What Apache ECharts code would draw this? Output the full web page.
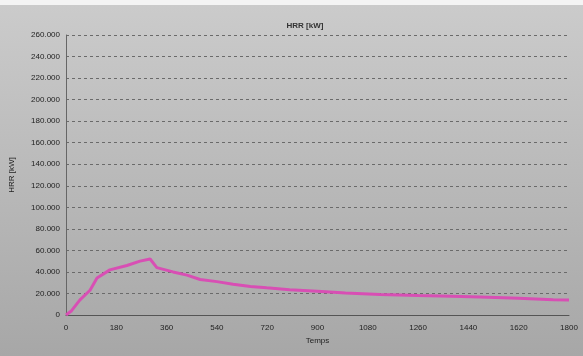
<!DOCTYPE html>
<html><head><meta charset="utf-8">
<script src="https://cdn.jsdelivr.net/npm/echarts@6/dist/echarts.min.js"></script>
<style>html,body{margin:0;padding:0;background:#f4f4f4}#c{width:583px;height:356px}</style>
</head><body><div id="c"></div>
<script>
var times = [0, 20, 50, 86, 111, 157, 218, 265, 301, 325, 383, 433, 480, 540, 598, 660, 718, 800, 900, 1000, 1124, 1260, 1380, 1482, 1620, 1743, 1800];
var hrr = [0, 4000, 14000, 23000, 34400, 41900, 46000, 50000, 52000, 44000, 40000, 37000, 33000, 31000, 28500, 26500, 25200, 23500, 22000, 20500, 19000, 18000, 17300, 16700, 15500, 14200, 14000];
var yTicks = ['0','20.000','40.000','60.000','80.000','100.000','120.000','140.000','160.000','180.000','200.000','220.000','240.000','260.000'];
var xTicks = ['0','180','360','540','720','900','1080','1260','1440','1620','1800'];
var chart = echarts.init(document.getElementById('c'));
var pts = times.map(function(t,i){return [t,hrr[i]];});
var font = 'Liberation Sans, Arial, sans-serif';
chart.setOption({
  backgroundColor: {type:'linear',x:0,y:0,x2:0,y2:1,colorStops:[
    {offset:0,color:'#f4f4f4'},{offset:0.014,color:'#f4f4f4'},{offset:0.015,color:'#cbcbcb'},{offset:1,color:'#a7a7a7'}]},
  animation:false,
  title:{text:'HRR [kW]',left:300,top:17,textAlign:'center',textStyle:{fontSize:8,fontWeight:'bold',color:'#333',fontFamily:font}},
  grid:{left:66,right:14,top:35,bottom:41},
  xAxis:{type:'value',min:0,max:1800,interval:180,name:'Temps',nameLocation:'middle',nameGap:22,
    nameTextStyle:{fontSize:8,color:'#222',fontFamily:font},
    axisLine:{lineStyle:{color:'#555',width:1}},axisTick:{show:false},
    axisLabel:{fontSize:8,color:'#222',fontFamily:font,margin:9,formatter:function(v){return xTicks[Math.round(v/180)];}},
    splitLine:{show:false}},
  yAxis:{type:'value',min:0,max:260000,interval:20000,name:'HRR [kW]',nameLocation:'middle',nameGap:50,nameRotate:90,
    nameTextStyle:{fontSize:8,color:'#222',fontFamily:font},
    axisLine:{show:true,lineStyle:{color:'#666',width:1}},axisTick:{show:false},
    axisLabel:{fontSize:8,color:'#222',fontFamily:font,margin:6,formatter:function(v){return yTicks[Math.round(v/20000)];}},
    splitLine:{show:true,lineStyle:{color:'#6a6a6a',type:[3,3],width:1}}},
  series:[{type:'line',data:pts,symbol:'none',smooth:false,lineStyle:{color:'#d84fb4',width:3}}]
});
</script></body></html>
